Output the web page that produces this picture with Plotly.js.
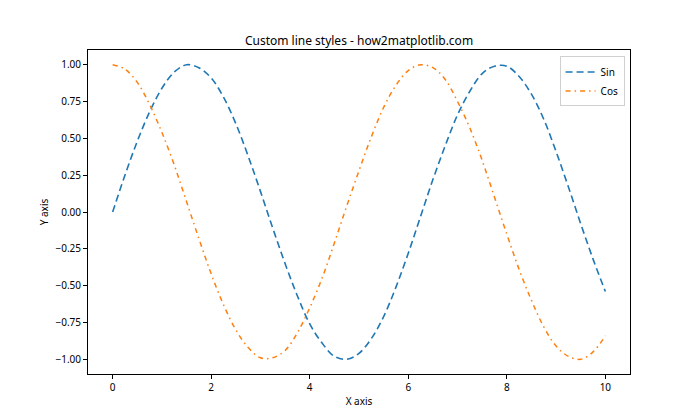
<!DOCTYPE html>
<html>
<head>
<meta charset="utf-8">
<script src="https://cdn.plot.ly/plotly-3.0.1.min.js"></script>
<style>html,body{margin:0;padding:0;background:#fff;}</style>
</head>
<body>
<div id="chart" style="width:700px;height:420px;"></div>
<script>
const xValues = [0,0.25,0.5,0.75,1,1.25,1.5,1.75,2,2.25,2.5,2.75,3,3.25,3.5,3.75,4,4.25,4.5,4.75,5,5.25,5.5,5.75,6,6.25,6.5,6.75,7,7.25,7.5,7.75,8,8.25,8.5,8.75,9,9.25,9.5,9.75,10];
const sinValues = [0,0.25,0.48,0.68,0.84,0.95,1.00,0.98,0.91,0.78,0.60,0.38,0.14,-0.11,-0.35,-0.57,-0.76,-0.89,-0.98,-1.00,-0.96,-0.86,-0.71,-0.51,-0.28,-0.03,0.22,0.45,0.66,0.82,0.94,0.99,0.99,0.92,0.80,0.63,0.41,0.17,-0.08,-0.32,-0.54];
const cosValues = [1,0.97,0.88,0.73,0.54,0.32,0.07,-0.18,-0.42,-0.63,-0.80,-0.92,-0.99,-0.99,-0.94,-0.82,-0.65,-0.45,-0.21,0.04,0.28,0.51,0.71,0.86,0.96,1.00,0.98,0.90,0.75,0.57,0.35,0.10,-0.15,-0.39,-0.60,-0.78,-0.91,-0.98,-1.00,-0.95,-0.84];
const xTicks = [0,2,4,6,8,10];
const yTicks = [-1,-0.75,-0.5,-0.25,0,0.25,0.5,0.75,1];

const font = "'Noto Sans', 'DejaVu Sans', sans-serif";
const traces = [
  {x: xValues, y: sinValues, name: 'Sin', mode: 'lines',
   line: {color: '#1f77b4', width: 1.6, dash: '7px,4px', shape: 'spline'}},
  {x: xValues, y: cosValues, name: 'Cos', mode: 'lines',
   line: {color: '#ff7f0e', width: 1.5, dash: '5px,4px,1.5px,4px', shape: 'spline'}}
];
const axisCommon = {
  showgrid: false, zeroline: false, showline: true, mirror: true,
  linecolor: '#000', linewidth: 1, ticks: 'outside', ticklen: 4,
  tickcolor: '#000', tickwidth: 1, tickfont: {family: font, size: 10, color: '#000'}
};
const layout = {
  width: 700, height: 420,
  margin: {l: 88, r: 70, t: 50, b: 46},
  paper_bgcolor: '#fff', plot_bgcolor: '#fff',
  font: {family: font, color: '#000'},
  title: {text: 'Custom line styles - how2matplotlib.com', font: {family: font, size: 12, color: '#000'},
          x: 0.5, xanchor: 'center', xref: 'paper', y: 1, yref: 'paper', yanchor: 'bottom', pad: {b: 5}},
  xaxis: Object.assign({}, axisCommon, {range: [-0.5, 10.5], tickvals: xTicks, ticktext: xTicks.map(String),
    title: {text: 'X axis', font: {family: font, size: 10, color: '#000'}, standoff: 4}}),
  yaxis: Object.assign({}, axisCommon, {range: [-1.1, 1.1], tickvals: yTicks, tickformat: '.2f',
    title: {text: 'Y axis', font: {family: font, size: 10, color: '#000'}, standoff: 4}}),
  showlegend: true,
  legend: {x: 0.99, y: 0.98, xanchor: 'right', yanchor: 'top', bgcolor: 'rgba(255,255,255,0.8)',
           bordercolor: '#d0d0d0', borderwidth: 1, font: {family: font, size: 10, color: '#000'},
           itemwidth: 30, tracegroupgap: 0}
};
Plotly.newPlot('chart', traces, layout, {displayModeBar: false, staticPlot: true});
</script>
</body>
</html>
